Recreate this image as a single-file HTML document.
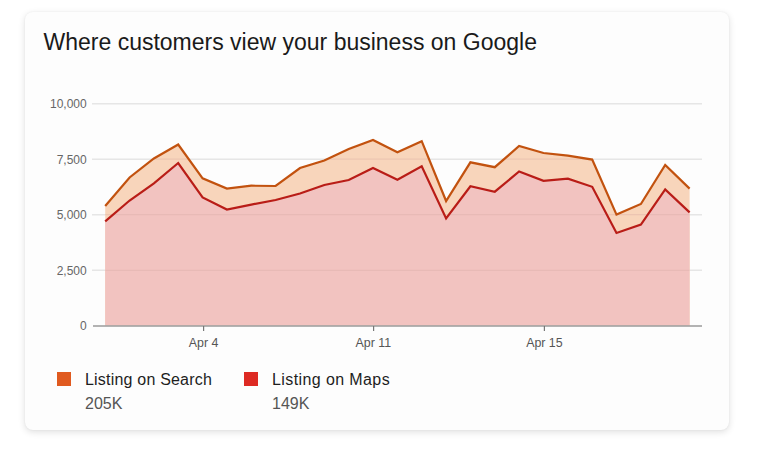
<!DOCTYPE html>
<html><head><meta charset="utf-8"><style>
html,body{margin:0;padding:0;width:757px;height:449px;overflow:hidden;background:#fff;}
body{position:relative;font-family:"Liberation Sans",Arial,sans-serif;}
.card{position:absolute;left:25px;top:12px;width:704px;height:418px;border-radius:8px;background:#fdfdfd;box-shadow:0 2px 7px rgba(0,0,0,0.13),0 0 2px rgba(0,0,0,0.06);}
.title{position:absolute;left:43.5px;top:29px;font-size:23px;line-height:27px;color:#1a1a1a;white-space:nowrap;}
.sq{position:absolute;width:14px;height:14px;}
.lg{position:absolute;font-size:16px;line-height:18px;color:#1e1e1e;white-space:nowrap;letter-spacing:0.2px;}
.val{position:absolute;font-size:16px;line-height:18px;color:#555;white-space:nowrap;}
</style></head><body>
<div class="card"></div>
<div class="title">Where customers view your business on Google</div>
<svg width="757" height="449" viewBox="0 0 757 449" style="position:absolute;left:0;top:0">
<line x1="92" y1="103.8" x2="702" y2="103.8" stroke="#e6e6e6" stroke-width="1.5"/>
<line x1="92" y1="159.2" x2="702" y2="159.2" stroke="#e6e6e6" stroke-width="1.5"/>
<line x1="92" y1="214.7" x2="702" y2="214.7" stroke="#e6e6e6" stroke-width="1.5"/>
<line x1="92" y1="270.3" x2="702" y2="270.3" stroke="#e6e6e6" stroke-width="1.5"/>
<defs><clipPath id="ca"><path d="M105.2,325.6 L105.2,206.0 L129.6,177.5 L153.9,158.5 L178.2,144.5 L202.6,178.3 L226.9,188.5 L251.3,185.7 L275.6,186.0 L300.0,168.0 L324.3,160.5 L348.7,149.0 L373.0,140.0 L397.4,152.3 L421.7,141.2 L446.1,201.0 L470.4,162.3 L494.8,167.2 L519.1,146.0 L543.5,153.0 L567.9,155.6 L592.2,159.6 L616.5,214.6 L640.9,204.0 L665.2,165.0 L689.6,188.6 L689.6,325.6 Z"/></clipPath></defs>
<path d="M105.2,325.6 L105.2,206.0 L129.6,177.5 L153.9,158.5 L178.2,144.5 L202.6,178.3 L226.9,188.5 L251.3,185.7 L275.6,186.0 L300.0,168.0 L324.3,160.5 L348.7,149.0 L373.0,140.0 L397.4,152.3 L421.7,141.2 L446.1,201.0 L470.4,162.3 L494.8,167.2 L519.1,146.0 L543.5,153.0 L567.9,155.6 L592.2,159.6 L616.5,214.6 L640.9,204.0 L665.2,165.0 L689.6,188.6 L689.6,325.6 Z" fill="#f8d5bb"/>
<path d="M105.2,325.6 L105.2,221.3 L129.6,200.5 L153.9,183.3 L178.2,163.0 L202.6,197.5 L226.9,209.5 L251.3,204.6 L275.6,200.0 L300.0,193.5 L324.3,185.0 L348.7,180.0 L373.0,168.0 L397.4,179.7 L421.7,166.3 L446.1,218.5 L470.4,186.3 L494.8,191.7 L519.1,171.5 L543.5,180.8 L567.9,178.6 L592.2,186.8 L616.5,233.0 L640.9,224.6 L665.2,189.4 L689.6,212.4 L689.6,325.6 Z" fill="#f2c3c0"/>
<line x1="105.2" y1="103.8" x2="689.6" y2="103.8" stroke="#d8a8a4" stroke-opacity="0.35" stroke-width="1.2" clip-path="url(#ca)"/>
<line x1="105.2" y1="159.2" x2="689.6" y2="159.2" stroke="#d8a8a4" stroke-opacity="0.35" stroke-width="1.2" clip-path="url(#ca)"/>
<line x1="105.2" y1="214.7" x2="689.6" y2="214.7" stroke="#d8a8a4" stroke-opacity="0.35" stroke-width="1.2" clip-path="url(#ca)"/>
<line x1="105.2" y1="270.3" x2="689.6" y2="270.3" stroke="#d8a8a4" stroke-opacity="0.35" stroke-width="1.2" clip-path="url(#ca)"/>
<polyline points="105.2,206.0 129.6,177.5 153.9,158.5 178.2,144.5 202.6,178.3 226.9,188.5 251.3,185.7 275.6,186.0 300.0,168.0 324.3,160.5 348.7,149.0 373.0,140.0 397.4,152.3 421.7,141.2 446.1,201.0 470.4,162.3 494.8,167.2 519.1,146.0 543.5,153.0 567.9,155.6 592.2,159.6 616.5,214.6 640.9,204.0 665.2,165.0 689.6,188.6" fill="none" stroke="#c2520f" stroke-width="2.2" stroke-linejoin="miter"/>
<polyline points="105.2,221.3 129.6,200.5 153.9,183.3 178.2,163.0 202.6,197.5 226.9,209.5 251.3,204.6 275.6,200.0 300.0,193.5 324.3,185.0 348.7,180.0 373.0,168.0 397.4,179.7 421.7,166.3 446.1,218.5 470.4,186.3 494.8,191.7 519.1,171.5 543.5,180.8 567.9,178.6 592.2,186.8 616.5,233.0 640.9,224.6 665.2,189.4 689.6,212.4" fill="none" stroke="#b91d17" stroke-width="2.2" stroke-linejoin="miter"/>
<line x1="93" y1="325.9" x2="702" y2="325.9" stroke="#9a9a9a" stroke-width="1.5"/>
<line x1="203.6" y1="325.9" x2="203.6" y2="331" stroke="#777" stroke-width="1.2"/>
<line x1="373.6" y1="325.9" x2="373.6" y2="331" stroke="#777" stroke-width="1.2"/>
<line x1="544.4" y1="325.9" x2="544.4" y2="331" stroke="#777" stroke-width="1.2"/>
<text x="86.7" y="108.1" text-anchor="end" font-family="Liberation Sans, Arial, sans-serif" font-size="12" fill="#666">10,000</text>
<text x="86.7" y="163.5" text-anchor="end" font-family="Liberation Sans, Arial, sans-serif" font-size="12" fill="#666">7,500</text>
<text x="86.7" y="219.0" text-anchor="end" font-family="Liberation Sans, Arial, sans-serif" font-size="12" fill="#666">5,000</text>
<text x="86.7" y="274.6" text-anchor="end" font-family="Liberation Sans, Arial, sans-serif" font-size="12" fill="#666">2,500</text>
<text x="86.7" y="330.2" text-anchor="end" font-family="Liberation Sans, Arial, sans-serif" font-size="12" fill="#666">0</text>
<text x="203.6" y="346.6" text-anchor="middle" font-family="Liberation Sans, Arial, sans-serif" font-size="12.4" fill="#555">Apr 4</text>
<text x="373.4" y="346.6" text-anchor="middle" font-family="Liberation Sans, Arial, sans-serif" font-size="12.4" fill="#555">Apr 11</text>
<text x="544.4" y="346.6" text-anchor="middle" font-family="Liberation Sans, Arial, sans-serif" font-size="12.4" fill="#555">Apr 15</text>
</svg>
<div class="sq" style="left:57px;top:372px;background:#e05a1f"></div>
<div class="lg" style="left:85px;top:371px">Listing on Search</div>
<div class="val" style="left:85px;top:394.5px">205K</div>
<div class="sq" style="left:244px;top:372px;background:#dd2a23"></div>
<div class="lg" style="left:272px;top:371px;letter-spacing:0.4px">Listing on Maps</div>
<div class="val" style="left:272px;top:394.5px">149K</div>
</body></html>
